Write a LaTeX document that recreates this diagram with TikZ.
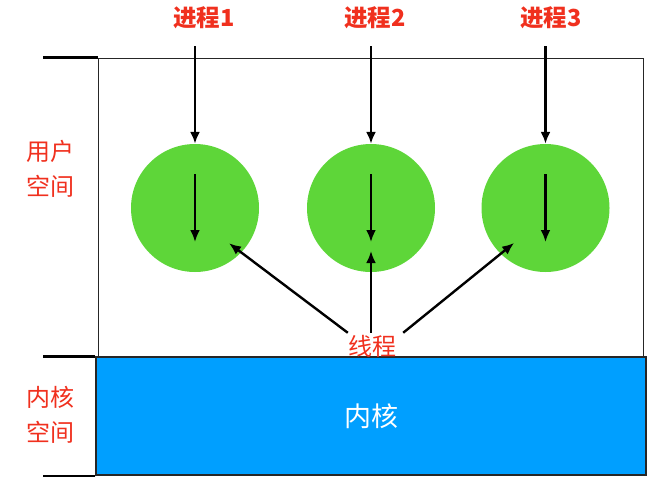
\documentclass[tikz,border=0pt]{standalone}
\usepackage{fontspec}
\setmainfont{Noto Sans CJK SC}
\usepackage{tikz}
\usetikzlibrary{arrows.meta,positioning,calc}
\definecolor{labred}{RGB}{240,48,30}
\definecolor{thrgreen}{RGB}{94,214,57}
\definecolor{kernblue}{RGB}{0,159,255}

\begin{document}
\begin{tikzpicture}[
  x=1pt, y=1pt,
  proc/.style={circle, fill=thrgreen, minimum size=128pt, inner sep=0pt},
  plab/.style={text=labred, font=\fontsize{23.5}{23.5}\selectfont\bfseries, inner sep=0pt},
  slab/.style={text=labred, font=\fontsize{24}{35}\selectfont, align=center, inner sep=0pt},
  space/.style={draw=black!85, line width=1pt, minimum width=545pt, minimum height=299pt, inner sep=0pt},
  kern/.style={draw=black!85, line width=1.2pt, fill=kernblue, text=white, font=\fontsize{27}{27}\selectfont, minimum width=550pt, minimum height=118pt, inner sep=0pt},
  tick/.style={line width=2.2pt},
  arr/.style={-{Latex[length=12pt, width=10pt]}, line width=2.4pt}
]
\useasboundingbox (0,0) rectangle (653,-485);
\node[space] (us) at (370.5,-207.5) {};
\node[kern] (ks) at (371,-416) {内核};
\node[proc] (c1) at (195,-208) {};
\node[proc] (c2) at (371,-208) {};
\node[proc] (c3) at (545.5,-208) {};
\node[plab] (p1) at (204,-18) {进程1};
\node[plab] (p2) at (375,-18) {进程2};
\node[plab] (p3) at (551,-18) {进程3};
\node[slab] (ul) at (51,-168.5) {用户\\空间};
\node[slab] (kl) at (51,-415) {内核\\空间};
\node[text=labred, font=\fontsize{24}{24}\selectfont, inner sep=0pt] (thr) at (372,-346) {线程};
% side ticks
\draw[tick] (us.north west) -- ++(-55,0);
\draw[tick] (ks.north west) -- ++(-52,0);
\draw[tick] (ks.south west) -- ++(-52,0);
% process arrows
\draw[arr] ([yshift=-17pt]c1.center |- p1.south) -- (c1);
\draw[arr] ([yshift=-17pt]c2.center |- p2.south) -- (c2);
\draw[arr] ([yshift=-17pt]c3.center |- p3.south) -- (c3);
\draw[arr] ([yshift=34pt]c1.center) -- ([yshift=-34pt]c1.center);
\draw[arr] ([yshift=34pt]c2.center) -- ([yshift=-34pt]c2.center);
\draw[arr] ([yshift=34pt]c3.center) -- ([yshift=-34pt]c3.center);
% thread arrows
\draw[arr] ([shift={(0,2)}]thr.north west) -- ($(c1)+(-46:49)$);
\draw[arr] ([yshift=2pt]c2.center |- thr.north) -- ([yshift=-43pt]c2.center);
\draw[arr] ([shift={(7,2)}]thr.north east) -- ($(c3)+(228:47)$);
\end{tikzpicture}
\end{document}
